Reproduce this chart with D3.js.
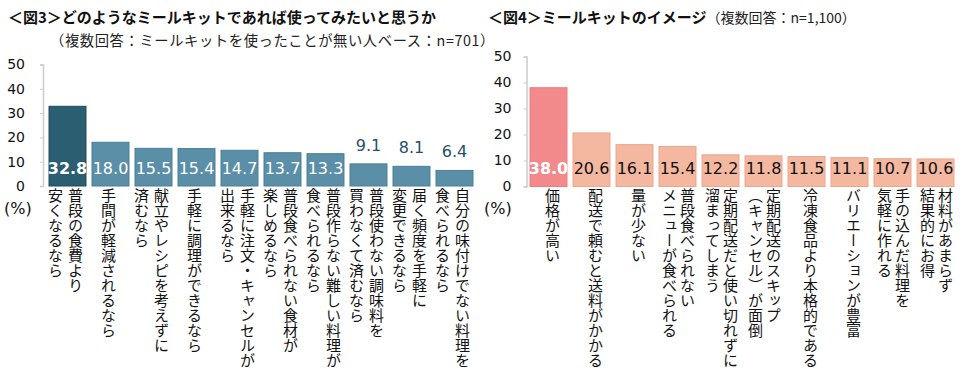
<!DOCTYPE html>
<html>
<head>
<meta charset="utf-8">
<script src="https://cdn.jsdelivr.net/npm/d3@7"></script>
<style>
  html, body { margin: 0; padding: 0; background: #fff; }
  svg { display: block; }
  .jp { font-family: "Noto Sans CJK JP", sans-serif; }
  .num { font-family: "DejaVu Sans", "Noto Sans CJK JP", sans-serif; }
</style>
</head>
<body>
<svg id="chart" width="960" height="380"></svg>
<script>
// ---------- DATA ----------
const leftTitle = "＜図3＞どのようなミールキットであれば使ってみたいと思うか";
const leftSubtitle = "（複数回答：ミールキットを使ったことが無い人ベース：n=701）";
const leftCategories = [
  ["普段の食費より", "安くなるなら"],
  ["手間が軽減されるなら"],
  ["献立やレシピを考えずに", "済むなら"],
  ["手軽に調理ができるなら"],
  ["手軽に注文・キャンセルが", "出来るなら"],
  ["普段食べられない食材が", "楽しめるなら"],
  ["普段作らない難しい料理が", "食べられるなら"],
  ["普段使わない調味料を", "買わなくて済むなら"],
  ["届く頻度を手軽に", "変更できるなら"],
  ["自分の味付けでない料理を", "食べられるなら"]
];
const leftValues = [32.8, 18.0, 15.5, 15.4, 14.7, 13.7, 13.3, 9.1, 8.1, 6.4];

const rightTitle = "＜図4＞ミールキットのイメージ";
const rightSubtitle = "（複数回答：n=1,100）";
const rightCategories = [
  ["価格が高い"],
  ["配送で頼むと送料がかかる"],
  ["量が少ない"],
  ["普段食べられない", "メニューが食べられる"],
  ["定期配送だと使い切れずに", "溜まってしまう"],
  ["定期配送のスキップ", "（キャンセル）が面倒"],
  ["冷凍食品より本格的である"],
  ["バリエーションが豊富"],
  ["手の込んだ料理を", "気軽に作れる"],
  ["材料があまらず", "結果的にお得"]
];
const rightValues = [38.0, 20.6, 16.1, 15.4, 12.2, 11.8, 11.5, 11.1, 10.7, 10.6];

const yTicks = [0, 10, 20, 30, 40, 50];
const unitLabel = "(%)";

// ---------- DRAW ----------
const svg = d3.select("#chart");

function panel(opts) {
  const g = svg.append("g");
  const idx = d3.range(opts.values.length);
  const x = d3.scaleBand().domain(idx).range([opts.x0, opts.x0 + 430])
    .paddingInner(0.14).paddingOuter(0.07);
  const y = d3.scaleLinear().domain([0, 50]).range(opts.yRange);

  // axis
  const axis = d3.axisLeft(y).tickValues(yTicks).tickSize(3).tickPadding(opts.tickPad);
  const ag = g.append("g").attr("transform", `translate(${opts.axisX},0)`).call(axis);
  ag.select(".domain").attr("stroke", "#cccccc").attr("stroke-width", 1.5);
  ag.selectAll(".tick line").attr("stroke", "#cccccc");
  ag.selectAll(".tick text").attr("class", "num").attr("font-size", 14).attr("fill", "#111");

  // bars
  g.selectAll("rect.bar").data(idx).enter().append("rect")
    .attr("class", "bar")
    .attr("x", i => x(i))
    .attr("width", x.bandwidth())
    .attr("y", i => y(opts.values[i]))
    .attr("height", i => y(0) - y(opts.values[i]))
    .attr("fill", i => i === 0 ? opts.firstFill : opts.fill)
    .attr("stroke", i => i === 0 ? opts.firstStroke : opts.stroke)
    .attr("stroke-width", 1);

  // value labels
  g.selectAll("text.val").data(idx).enter().append("text")
    .attr("class", "num")
    .attr("x", i => x(i) + x.bandwidth() / 2)
    .attr("y", i => opts.values[i] < 10 ? y(opts.values[i]) - 13 : 174)
    .attr("text-anchor", "middle")
    .attr("font-size", 16)
    .attr("font-weight", i => i === 0 ? "bold" : "normal")
    .attr("fill", i => i === 0 ? "#fff" : (opts.values[i] < 10 ? opts.outsideColor : opts.insideColor))
    .text(i => opts.values[i].toFixed(1));

  // category labels (vertical)
  idx.forEach(i => {
    const lines = opts.categories[i];
    const cx = x(i) + x.bandwidth() / 2;
    lines.forEach((line, k) => {
      let px;
      if (lines.length === 1) px = cx + opts.singleOff;
      else px = cx + (k === 0 ? opts.pairOff[1] : opts.pairOff[0]);
      g.append("text")
        .attr("class", "jp")
        .attr("x", px)
        .attr("y", 188)
        .attr("font-size", 15)
        .attr("fill", "#111")
        .style("writing-mode", "vertical-rl")
        .text(line);
    });
  });

  // unit
  g.append("text").attr("class", "num").attr("x", opts.unitX).attr("y", 214)
    .attr("font-size", 16).attr("fill", "#111").text(unitLabel);
}

// titles
svg.append("text").attr("class", "jp").attr("x", 8).attr("y", 23)
  .attr("font-size", 15).attr("font-weight", "bold").attr("fill", "#111").text(leftTitle);
svg.append("text").attr("class", "jp").attr("x", 50).attr("y", 46)
  .attr("font-size", 14.3).attr("letter-spacing", 0.6).attr("fill", "#222").text(leftSubtitle);

const rt = svg.append("text").attr("class", "jp").attr("x", 488).attr("y", 23).attr("fill", "#111");
rt.append("tspan").attr("font-size", 15).attr("font-weight", "bold").text(rightTitle);
rt.append("tspan").attr("font-size", 14).attr("dx", 0).attr("fill", "#222").text(rightSubtitle);

panel({
  categories: leftCategories, values: leftValues,
  x0: 46, axisX: 43, yRange: [186, 64.5], tickPad: 15,
  firstFill: "#2c5e72", firstStroke: "#1f4b5d",
  fill: "#5a8fa7", stroke: "#4a7f98",
  insideColor: "#fff", outsideColor: "#1f4f6a",
  singleOff: -2, pairOff: [-12, 8], unitX: 4
});

panel({
  categories: rightCategories, values: rightValues,
  x0: 527, axisX: 526.5, yRange: [186.5, 56.5], tickPad: 12,
  firstFill: "#f28a8c", firstStroke: "#ef7c80",
  fill: "#f4b7a0", stroke: "#eea68c",
  insideColor: "#111", outsideColor: "#111",
  singleOff: 4, pairOff: [-8, 10], unitX: 484
});
</script>
</body>
</html>
